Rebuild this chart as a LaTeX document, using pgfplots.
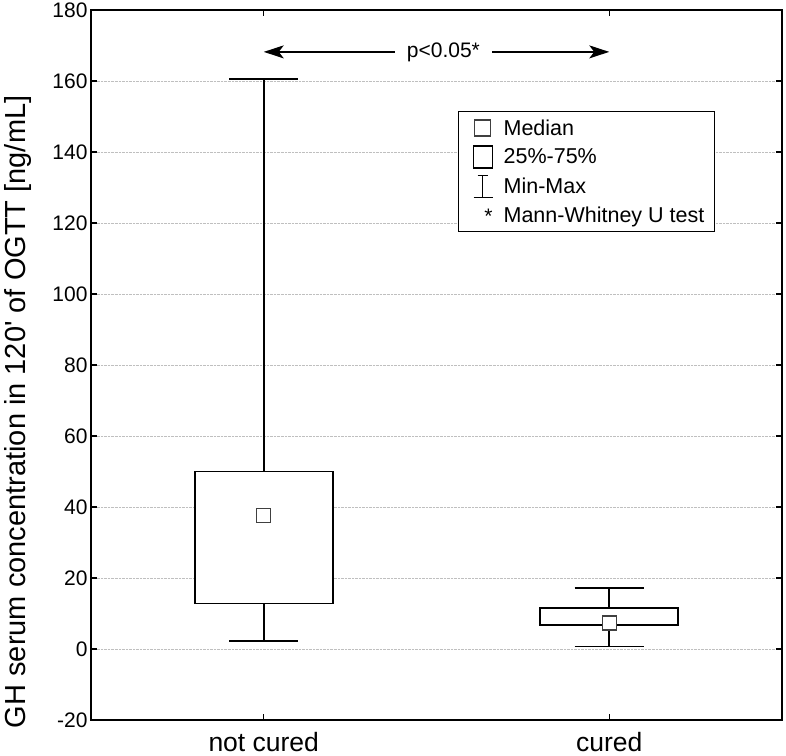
\documentclass[border=0pt]{standalone}
\usepackage{fontspec}
\setmainfont{Liberation Sans}
\usepackage{pgfplots}
\pgfplotsset{compat=1.18}
\usetikzlibrary{arrows.meta}
\begin{document}
\begin{tikzpicture}
\useasboundingbox (-91bp,-36bp) rectangle (695bp,720bp);
\begin{axis}[
  at={(0,0)}, anchor=south west,
  scale only axis, width=691bp, height=710bp,
  xmin=-0.5, xmax=1.5, ymin=-20, ymax=180,
  xtick={0,1}, xticklabels={not cured, cured},
  ytick={-20,0,20,40,60,80,100,120,140,160,180},
  yticklabels={-20,0,20,40,60,80,100,120,140,160,180},
  tick align=inside, major tick length=6bp,
  ymajorgrids, grid style={gray!50, densely dotted, line width=0.8bp},
  axis line style={line width=1.6bp},
  every tick/.style={black, line width=1.2bp},
  yticklabel style={font=\fontsize{21bp}{25bp}\selectfont},
  xticklabel style={font=\fontsize{26.5bp}{30bp}\selectfont, yshift=-9bp},
  ylabel={GH serum concentration in 120\textquotesingle{} of OGTT [ng/mL]},
  ylabel style={font=\fontsize{29bp}{33bp}\selectfont, at={(axis description cs:-0.1056,0.434)}, anchor=center},
  legend style={at={(0.531,0.858)}, anchor=north west, draw=black, line width=1.4bp, fill=white,
    font=\fontsize{21.5bp}{25bp}\selectfont, inner xsep=9bp, inner ysep=5.5bp, row sep=6bp,
    nodes={inner sep=1bp},
    /tikz/every odd column/.append style={column sep=9bp}},
  legend cell align=left,
  unbounded coords=jump,
]
% boxes (25%-75%)
\addplot[forget plot, black, line width=1.8bp, fill=white, line cap=rect] coordinates {(-0.2,12.8) (0.2,12.8) (0.2,50) (-0.2,50) (-0.2,12.8)};
\addplot[forget plot, black, line width=1.8bp, fill=white, line cap=rect] coordinates {(0.8,6.8) (1.2,6.8) (1.2,11.6) (0.8,11.6) (0.8,6.8)};
% whiskers (min-max)
\addplot[forget plot, black, line width=1.8bp] coordinates {(0,50) (0,160.5) (nan,nan) (-0.1,160.5) (0.1,160.5) (nan,nan) (0,12.8) (0,2.3) (nan,nan) (-0.1,2.3) (0.1,2.3)};
\addplot[forget plot, black, line width=1.8bp] coordinates {(1,11.6) (1,17.2) (nan,nan) (0.9,17.2) (1.1,17.2) (nan,nan) (1,6.8) (1,0.7) (nan,nan) (0.9,0.7) (1.1,0.7)};
% medians
\addplot[forget plot, only marks, mark=square*, mark size=7bp, mark options={fill=white, draw=black!75, line width=1.2bp}] coordinates {(0,37.5) (1,7.3)};
% significance arrow
\addplot[forget plot, black, line width=1.3bp, {Stealth[length=20bp, width=13bp, inset=5bp]}-{Stealth[length=20bp, width=13bp, inset=5bp]}] coordinates {(0,168.2) (1,168.2)};
\addplot[forget plot, only marks, mark=none, nodes near coords={p<0.05*}, nodes near coords style={anchor=center, fill=white, inner xsep=12bp, font=\fontsize{21bp}{25bp}\selectfont}] coordinates {(0.52,168.2)};
% legend
\addlegendimage{legend image code/.code={\path[draw=none, fill=none] (0,-11bp) rectangle (26bp,11bp); \draw[black!75, line width=1.2bp, fill=white] (7bp,-8bp) rectangle (23bp,8bp);}}
\addlegendentry{Median}
\addlegendimage{legend image code/.code={\path[draw=none, fill=none] (0,-11bp) rectangle (26bp,11bp); \draw[black, line width=1.6bp, fill=white] (6bp,-11bp) rectangle (25bp,11bp);}}
\addlegendentry{25\%-75\%}
\addlegendimage{legend image code/.code={\path[draw=none, fill=none] (0,-11bp) rectangle (26bp,11bp); \draw[black, line width=1.5bp] (10bp,11bp) -- (20bp,11bp) (15bp,11bp) -- (15bp,-11bp) (6bp,-11bp) -- (25bp,-11bp);}}
\addlegendentry{Min-Max}
\addlegendimage{legend image code/.code={\path[draw=none, fill=none] (0,-11bp) rectangle (26bp,11bp); \node[draw=none, fill=none, inner sep=0pt, font=\fontsize{21bp}{25bp}\selectfont] at (16bp,-2bp) {*};}}
\addlegendentry{Mann-Whitney U test}
\end{axis}
\end{tikzpicture}
\end{document}
